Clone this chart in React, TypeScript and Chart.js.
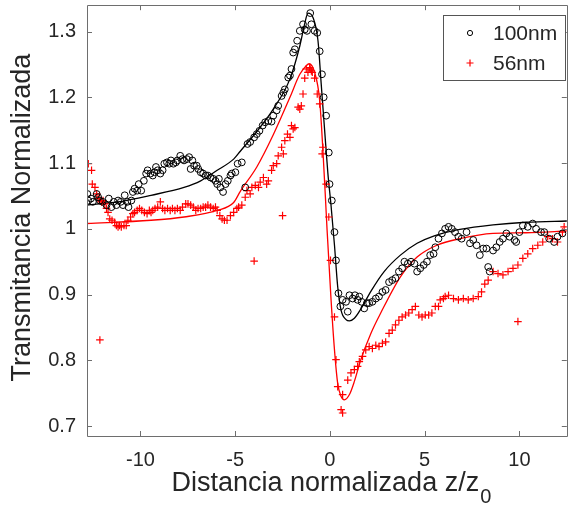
import React, { useEffect, useRef } from "react";
import { Chart, registerables } from "chart.js";
Chart.register(...registerables);

// ---- data ----
const z100 = [-12.8,-12.75,-12.61,-12.51,-12.31,-12.23,-12.14,-11.99,-11.79,-11.67,-11.53,-11.41,-11.27,-11.18,-11.04,-10.92,-10.83,-10.69,-10.63,-10.48,-10.4,-10.31,-10.17,-10.09,-9.96,-9.82,-9.7,-9.62,-9.47,-9.35,-9.26,-9.18,-9.09,-8.95,-8.83,-8.74,-8.6,-8.48,-8.39,-8.26,-8.13,-8.05,-7.9,-7.78,-7.7,-7.55,-7.43,-7.35,-7.26,-7.17,-7.03,-6.95,-6.82,-6.69,-6.56,-6.44,-6.3,-6.16,-6.04,-5.95,-5.86,-5.78,-5.64,-5.51,-5.39,-5.25,-5.18,-4.99,-4.87,-4.65,-4.47,-4.35,-4.21,-4.0,-3.86,-3.72,-3.55,-3.42,-3.25,-3.08,-2.99,-2.81,-2.73,-2.55,-2.46,-2.38,-2.2,-2.11,-2.03,-1.94,-1.85,-1.73,-1.59,-1.42,-1.33,-1.21,-1.04,-0.98,-0.81,-0.67,-0.54,-0.42,-0.33,-0.2,-0.06,-0.02,0.1,0.24,0.32,0.45,0.55,0.67,0.85,0.94,1.03,1.2,1.32,1.46,1.55,1.67,1.81,1.95,2.07,2.24,2.42,2.59,2.77,2.94,3.12,3.29,3.46,3.64,3.81,3.93,4.11,4.28,4.46,4.6,4.77,4.95,5.12,5.29,5.47,5.56,5.73,5.91,6.08,6.26,6.43,6.6,6.78,6.95,7.21,7.39,7.56,7.74,7.91,8.09,8.26,8.35,8.43,8.61,8.78,8.96,9.13,9.31,9.48,9.74,9.83,10.0,10.18,10.44,10.7,10.88,11.14,11.31,11.57,11.83,12.01,12.27];
const t100 = [1.053,1.043,1.046,1.041,1.053,1.048,1.043,1.041,1.036,1.046,1.033,1.041,1.036,1.043,1.041,1.036,1.051,1.041,1.033,1.043,1.056,1.061,1.058,1.068,1.058,1.073,1.084,1.089,1.084,1.081,1.086,1.094,1.089,1.084,1.089,1.099,1.101,1.099,1.104,1.099,1.101,1.104,1.111,1.106,1.104,1.106,1.109,1.091,1.104,1.096,1.096,1.091,1.086,1.084,1.081,1.081,1.078,1.076,1.073,1.068,1.076,1.063,1.056,1.068,1.073,1.081,1.084,1.086,1.099,1.101,1.063,1.129,1.132,1.139,1.144,1.149,1.157,1.162,1.164,1.163,1.172,1.18,1.187,1.202,1.207,1.212,1.23,1.233,1.243,1.268,1.273,1.286,1.301,1.311,1.303,1.301,1.328,1.311,1.301,1.298,1.27,1.235,1.2,1.172,1.116,1.068,1.043,0.995,0.952,0.902,0.882,0.892,0.889,0.874,0.899,0.894,0.899,0.892,0.897,0.889,0.879,0.887,0.887,0.889,0.894,0.897,0.904,0.907,0.919,0.922,0.925,0.935,0.94,0.95,0.947,0.95,0.947,0.935,0.94,0.945,0.95,0.96,0.962,0.972,0.985,0.993,1.0,1.003,1.0,0.995,0.988,0.985,0.995,0.978,0.983,0.975,0.96,0.97,0.97,0.942,0.935,0.967,0.972,0.98,0.985,0.993,0.988,0.983,0.98,0.995,1.005,1.003,1.008,1.0,0.995,0.995,0.985,0.98,0.988,0.993];

const z56 = [-12.75,-12.58,-12.54,-12.4,-12.31,-12.23,-12.14,-12.14,-12.05,-11.97,-11.88,-11.79,-11.71,-11.62,-11.5,-11.36,-11.27,-11.18,-11.1,-11.01,-10.87,-10.75,-10.66,-10.52,-10.4,-10.31,-10.17,-10.05,-9.93,-9.79,-9.65,-9.53,-9.44,-9.35,-9.23,-9.09,-8.95,-8.83,-8.71,-8.57,-8.43,-8.31,-8.18,-8.05,-7.9,-7.78,-7.61,-7.49,-7.35,-7.21,-7.08,-6.96,-6.82,-6.69,-6.56,-6.44,-6.3,-6.16,-6.04,-5.95,-5.81,-5.69,-5.57,-5.43,-5.25,-5.08,-4.91,-4.82,-4.65,-4.47,-4.38,-4.21,-4.12,-4.0,-3.94,-3.77,-3.68,-3.51,-3.34,-3.25,-3.08,-2.99,-2.81,-2.73,-2.55,-2.5,-2.46,-2.38,-2.24,-2.11,-2.03,-1.94,-1.85,-1.68,-1.59,-1.51,-1.42,-1.33,-1.25,-1.16,-1.07,-1.04,-0.98,-0.93,-0.81,-0.67,-0.54,-0.41,-0.37,-0.2,-0.06,0.03,0.24,0.32,0.41,0.59,0.67,0.67,0.94,1.11,1.29,1.46,1.55,1.72,1.89,2.07,2.24,2.42,2.59,2.77,2.94,3.12,3.29,3.46,3.64,3.81,3.99,4.16,4.34,4.51,4.69,4.86,5.03,5.21,5.38,5.56,5.73,5.82,5.99,6.08,6.26,6.52,6.78,7.04,7.3,7.56,7.83,8.0,8.17,8.35,8.61,8.87,9.13,9.4,9.66,9.92,9.92,10.18,10.44,10.7,10.97,11.23,11.49,11.75,12.01,12.27,12.36];
const t56 = [1.099,1.089,1.068,1.063,1.053,1.046,0.831,1.043,1.041,1.043,1.038,1.031,1.025,1.015,1.013,1.01,1.005,1.003,1.005,1.003,1.005,1.005,1.013,1.018,1.023,1.025,1.028,1.031,1.028,1.025,1.023,1.028,1.025,1.028,1.031,1.033,1.041,1.031,1.028,1.031,1.028,1.031,1.028,1.031,1.028,1.033,1.038,1.038,1.036,1.033,1.028,1.031,1.031,1.033,1.033,1.036,1.033,1.031,1.033,1.028,1.02,1.015,1.013,1.013,1.02,1.025,1.031,1.033,1.036,1.048,1.058,1.053,1.063,0.951,1.066,1.063,1.071,1.078,1.068,1.073,1.089,1.096,1.099,1.111,1.124,1.02,1.114,1.134,1.144,1.139,1.157,1.152,1.154,1.185,1.182,1.187,1.205,1.229,1.243,1.238,1.245,1.243,1.24,1.238,1.229,1.205,1.19,1.114,1.124,1.068,1.018,0.952,0.866,0.801,0.76,0.725,0.72,0.748,0.77,0.781,0.786,0.791,0.798,0.806,0.816,0.821,0.818,0.823,0.821,0.826,0.828,0.841,0.846,0.854,0.861,0.866,0.869,0.872,0.877,0.882,0.869,0.866,0.869,0.869,0.872,0.882,0.882,0.892,0.894,0.897,0.899,0.894,0.892,0.894,0.892,0.894,0.897,0.904,0.916,0.922,0.935,0.932,0.93,0.935,0.94,0.945,0.859,0.955,0.962,0.97,0.975,0.98,0.988,0.985,0.98,0.995,1.003];

const zFit100 = [-12.9,-11.18,-9.44,-7.7,-6.82,-5.95,-5.08,-4.73,-3.86,-2.99,-2.11,-1.59,-1.33,-1.16,-0.89,-0.63,-0.46,-0.28,-0.11,0.06,0.24,0.41,0.59,0.85,1.03,1.29,1.63,2.16,2.86,3.72,4.6,5.47,6.86,8.61,10.35,12.6];
const tFit100 = [1.036,1.041,1.051,1.063,1.073,1.089,1.106,1.118,1.148,1.182,1.228,1.278,1.312,1.328,1.321,1.286,1.22,1.15,1.085,1.035,0.975,0.912,0.876,0.862,0.86,0.864,0.878,0.905,0.935,0.96,0.978,0.989,0.999,1.006,1.01,1.012];

const zFit56 = [-12.9,-9.44,-7.7,-5.95,-5.08,-4.73,-3.86,-2.99,-2.11,-1.59,-1.25,-1.1,-0.81,-0.54,-0.37,-0.23,-0.15,0.06,0.24,0.41,0.59,0.76,1.03,1.29,1.63,2.16,2.68,3.72,4.6,5.64,6.86,8.61,10.35,12.6];
const tFit56 = [1.008,1.013,1.018,1.028,1.04,1.057,1.094,1.143,1.2,1.235,1.248,1.251,1.238,1.195,1.119,1.043,0.998,0.892,0.816,0.765,0.745,0.74,0.748,0.768,0.801,0.841,0.872,0.927,0.957,0.975,0.985,0.993,0.994,0.997];

const xTicks = [-10, -5, 0, 5, 10];
const yTicks = [0.7, 0.8, 0.9, 1, 1.1, 1.2, 1.3];
const seriesNames = ["100nm", "56nm"];
const xTitle = "Distancia normalizada z/z";
const xTitleSub = "0";
const yTitle = "Transmitancia Normalizada";

const FONT = '"Liberation Sans", Arial, Helvetica, sans-serif';
const TEXT = "#262626";
const AXIS = "#6e6e6e";

const framePlugin = {
  id: "frame",
  afterDatasetsDraw(chart: any) {
    const { ctx, chartArea, scales } = chart;
    const { left, right, top, bottom } = chartArea;
    ctx.save();
    ctx.strokeStyle = AXIS;
    ctx.lineWidth = 1;
    ctx.beginPath();
    ctx.rect(Math.round(left) + 0.5, Math.round(top) + 0.5, Math.round(right - left), Math.round(bottom - top));
    ctx.stroke();
    const tl = 5;
    ctx.beginPath();
    for (const v of xTicks) {
      const px = Math.round(scales.x.getPixelForValue(v)) + 0.5;
      ctx.moveTo(px, bottom); ctx.lineTo(px, bottom - tl);
      ctx.moveTo(px, top); ctx.lineTo(px, top + tl);
    }
    for (const v of yTicks) {
      const py = Math.round(scales.y.getPixelForValue(v)) + 0.5;
      ctx.moveTo(left, py); ctx.lineTo(left + tl, py);
      ctx.moveTo(right, py); ctx.lineTo(right - tl, py);
    }
    ctx.stroke();
    ctx.restore();
  },
  afterDraw(chart: any) {
    const { ctx, chartArea } = chart;
    const { left, right, top, bottom } = chartArea;
    ctx.save();
    ctx.fillStyle = TEXT;
    const mainFont = `27px ${FONT}`;
    const subFont = `20px ${FONT}`;
    ctx.font = mainFont;
    const w1 = ctx.measureText(xTitle).width;
    ctx.font = subFont;
    const w2 = ctx.measureText(xTitleSub).width;
    const cx = (left + right) / 2 + 4;
    const sx = cx - (w1 + w2) / 2;
    ctx.textBaseline = "alphabetic";
    ctx.textAlign = "left";
    ctx.font = mainFont;
    ctx.fillText(xTitle, sx, 491);
    ctx.font = subFont;
    ctx.fillText(xTitleSub, sx + w1 + 1, 503);
    ctx.save();
    ctx.translate(23, (top + bottom) / 2 - 3);
    ctx.rotate(-Math.PI / 2);
    ctx.font = mainFont;
    ctx.textAlign = "center";
    ctx.textBaseline = "middle";
    ctx.fillText(yTitle, 0, 0);
    ctx.restore();
    // legend
    const bx = 443, by = 15, bw = 122, bh = 65;
    ctx.fillStyle = "#ffffff";
    ctx.fillRect(bx, by, bw, bh);
    ctx.strokeStyle = "#555555";
    ctx.lineWidth = 1;
    ctx.strokeRect(bx + 0.5, by + 0.5, bw, bh);
    ctx.strokeStyle = "#000000";
    ctx.beginPath();
    ctx.arc(470, 33, 2.6, 0, Math.PI * 2);
    ctx.stroke();
    ctx.strokeStyle = "#ff0000";
    ctx.lineWidth = 1.2;
    ctx.beginPath();
    ctx.moveTo(466.5, 63); ctx.lineTo(473.5, 63);
    ctx.moveTo(470, 59.5); ctx.lineTo(470, 66.5);
    ctx.stroke();
    ctx.fillStyle = TEXT;
    ctx.font = `21px ${FONT}`;
    ctx.textAlign = "left";
    ctx.textBaseline = "middle";
    ctx.fillText(seriesNames[0], 493, 34);
    ctx.fillText(seriesNames[1], 493, 64);
    ctx.restore();
  },
};

export default function App() {
  const ref = useRef<HTMLCanvasElement | null>(null);
  useEffect(() => {
    if (!ref.current) return;
    const pts = (xs: number[], ys: number[]) => xs.map((x, i) => ({ x, y: ys[i] }));
    const chart = new Chart(ref.current, {
      type: "scatter",
      data: {
        datasets: [
          {
            label: seriesNames[0],
            data: pts(z100, t100),
            showLine: false,
            pointStyle: "circle",
            pointRadius: 3.4,
            pointBorderColor: "#000000",
            pointBackgroundColor: "rgba(0,0,0,0)",
            pointBorderWidth: 1,
          },
          {
            label: seriesNames[1],
            data: pts(z56, t56),
            showLine: false,
            pointStyle: "cross",
            pointRadius: 3.8,
            pointBorderColor: "#ff0000",
            pointBackgroundColor: "#ff0000",
            pointBorderWidth: 1.2,
          },
          {
            label: "fit100",
            data: pts(zFit100, tFit100),
            showLine: true,
            pointRadius: 0,
            borderColor: "#000000",
            borderWidth: 1.3,
            cubicInterpolationMode: "monotone",
          },
          {
            label: "fit56",
            data: pts(zFit56, tFit56),
            showLine: true,
            pointRadius: 0,
            borderColor: "#ff0000",
            borderWidth: 1.3,
            cubicInterpolationMode: "monotone",
          },
        ],
      } as any,
      options: {
        animation: false,
        responsive: false,
        events: [],
        layout: { padding: { top: 4, right: 1, left: 0, bottom: 0 } },
        plugins: { legend: { display: false }, tooltip: { enabled: false } },
        scales: {
          x: {
            type: "linear",
            min: -12.82,
            max: 12.5,
            grid: { display: false, drawTicks: false },
            border: { display: false },
            ticks: {
              autoSkip: false,
              maxRotation: 0,
              padding: 12,
              color: TEXT,
              font: { family: FONT, size: 20 },
              callback: (v: any) => String(v),
            },
            afterBuildTicks: (s: any) => { s.ticks = xTicks.map((v) => ({ value: v })); },
            afterFit: (s: any) => { s.height = 85; s.paddingLeft = 0; s.paddingRight = 0; },
          },
          y: {
            type: "linear",
            min: 0.685,
            max: 1.34,
            grid: { display: false, drawTicks: false },
            border: { display: false },
            ticks: {
              autoSkip: false,
              padding: 11,
              color: TEXT,
              font: { family: FONT, size: 20 },
              callback: (v: any) => String(Math.round(Number(v) * 10) / 10),
            },
            afterBuildTicks: (s: any) => { s.ticks = yTicks.map((v) => ({ value: v })); },
            afterFit: (s: any) => { s.width = 87; s.paddingTop = 0; s.paddingBottom = 0; },
          },
        },
      } as any,
      plugins: [framePlugin],
    });
    return () => chart.destroy();
  }, []);
  return (
    <div style={{ position: "fixed", left: 0, top: 0, width: 569, height: 521, overflow: "hidden", background: "#fff" }}>
      <canvas ref={ref} width={572} height={521} style={{ width: 572, height: 521, display: "block" }} />
    </div>
  );
}
